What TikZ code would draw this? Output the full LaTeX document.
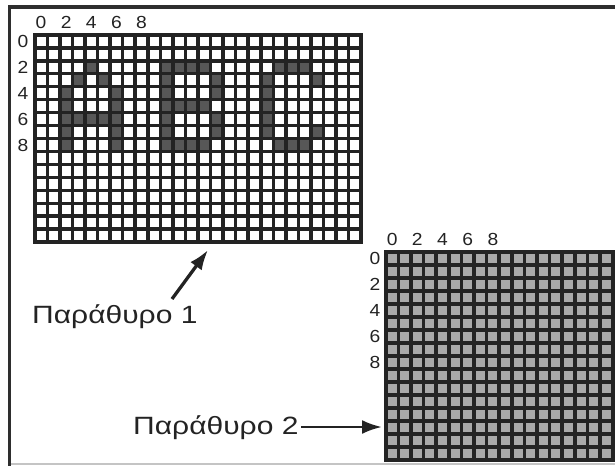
\documentclass[tikz,border=0pt]{standalone}
\usepackage{fontspec}
\setmainfont{Liberation Sans}
\newfontfamily\widefont[FakeStretch=1.2]{Liberation Sans}
\newfontfamily\digitfont[FakeStretch=1.1]{Liberation Sans}
\usetikzlibrary{arrows.meta}
\definecolor{linecol}{HTML}{232323}
\definecolor{darkcell}{HTML}{575757}
\definecolor{graycell}{HTML}{A9A9A9}
\definecolor{framecol}{HTML}{2E2E2E}
\definecolor{bottomcol}{HTML}{C4C4C4}
\tikzset{
  digit/.style={font=\digitfont\fontsize{17.5}{20}\selectfont, inner sep=0pt, text=linecol},
  winlabel/.style={font=\widefont\fontsize{25}{29}\selectfont, inner sep=0pt, text=linecol},
  pointer/.style={draw=linecol, line width=3.3pt, -{Latex[length=20pt,width=14pt]}},
}
\begin{document}
\begin{tikzpicture}[x=1pt,y=-1pt]
\useasboundingbox (0,0) rectangle (615,466);
% frame
\draw[bottomcol, line width=1.6pt] (10,464) -- (615,464);
\draw[framecol, line width=3.6pt] (615,7) -- (9.5,7) -- (9.5,466);
% ---------- grid 1 ----------
\fill[linecol] (33,33) rectangle (363,244);
\foreach \i in {0,...,25}{
  \foreach \j in {0,...,15}{
    \fill[white] ({36.6+\i*12.554},{36.6+\j*12.9625}) rectangle ++(8.954,9.3625);
  }
}
\foreach \i/\j in {4/2,3/3,5/3,2/4,2/5,2/6,2/7,2/8,6/4,6/5,6/6,6/7,6/8,3/6,4/6,5/6,
  10/2,10/3,10/4,10/5,10/6,10/7,10/8,11/2,12/2,13/2,11/5,12/5,13/5,11/8,12/8,13/8,14/3,14/4,14/6,14/7,
  19/2,20/2,21/2,18/3,18/4,18/5,18/6,18/7,19/8,20/8,21/8,22/3,22/7}{
  \fill[darkcell] ({36.6+\i*12.554},{36.6+\j*12.9625}) rectangle ++(8.954,9.3625);
}
\foreach \k [count=\n from 0] in {0,2,4,6,8}{
  \node[digit] (ac\n) at ({41.08+\k*12.554},22) {\k};
  \node[digit] (ar\n) at (23,{41.28+\k*12.9625}) {\k};
}
% ---------- grid 2 ----------
\fill[linecol] (384,250) rectangle (614.5,462);
\foreach \i in {0,...,17}{
  \foreach \j in {0,...,15}{
    \fill[graycell] ({387.6+\i*12.606},{253.6+\j*13.025}) rectangle ++(9.006,9.425);
  }
}
\foreach \k [count=\n from 0] in {0,2,4,6,8}{
  \node[digit] (bc\n) at ({392.1+\k*12.606},239) {\k};
  \node[digit] (br\n) at (375,{258.3+\k*13.025}) {\k};
}
% ---------- labels and arrows ----------
\node[winlabel, anchor=base west] (lab1) at (32,323) {Παράθυρο 1};
\node[winlabel, anchor=base west] (lab2) at (133,434.5) {Παράθυρο 2};
\coordinate (t1) at (208,250);
\coordinate (s1) at (172,299);
\coordinate (t2) at (382,427);
\coordinate (s2) at (301,427);
\draw[pointer] (s1) -- (t1);
\draw[pointer, line width=2.8pt] (s2) -- (t2);
\end{tikzpicture}
\end{document}
